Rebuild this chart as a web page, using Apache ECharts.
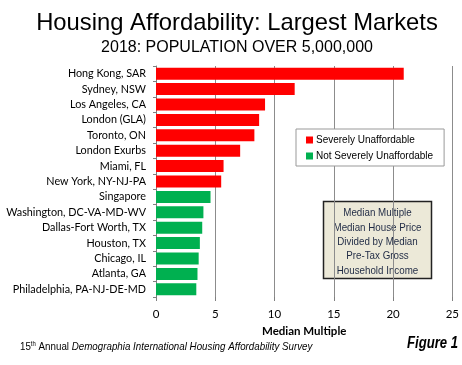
<!DOCTYPE html>
<html><head><meta charset="utf-8">
<script src="https://cdn.jsdelivr.net/npm/echarts@6/dist/echarts.min.js"></script>
<style>html,body{margin:0;padding:0;background:#fff}#c{width:462px;height:365px}</style>
</head><body><div id="c"></div>
<script>
const categories = ["Hong Kong, SAR","Sydney, NSW","Los Angeles, CA","London (GLA)","Toronto, ON","London Exurbs","Miami, FL","New York, NY-NJ-PA","Singapore","Washington, DC-VA-MD-WV","Dallas-Fort Worth, TX","Houston, TX","Chicago, IL","Atlanta, GA","Philadelphia, PA-NJ-DE-MD"];
const values = [20.9,11.7,9.2,8.7,8.3,7.1,5.7,5.5,4.6,4.0,3.9,3.7,3.6,3.5,3.4];
const severe = [1,1,1,1,1,1,1,1,0,0,0,0,0,0,0];
const seriesNames = ["Severely Unaffordable","Not Severely Unaffordable"];
const xTicks = [0,5,10,15,20,25];

const chart = echarts.init(document.getElementById('c'), null, {renderer:'canvas'});
const catFont = 'Lato, "Open Sans", sans-serif';
const arial = 'Liberation Sans, Arial, sans-serif';
chart.setOption({
  animation:false,
  title:[
    {text:'Housing Affordability: Largest Markets', left:232, textAlign:'center', top:6,
     textStyle:{fontFamily:arial,fontSize:23.8,fontWeight:'normal',color:'#000'}},
    {text:'2018: POPULATION OVER 5,000,000', left:232, textAlign:'center', top:35,
     textStyle:{fontFamily:arial,fontSize:16,fontWeight:'normal',color:'#000'}}
  ],
  grid:{left:156,right:9,top:66,bottom:68,containLabel:false},
  legend:{
    orient:'vertical', left:296, top:129,
    data:seriesNames, backgroundColor:'#fff', borderColor:'#999', borderWidth:1,
    padding:[6,11,5,10], itemGap:6, itemWidth:7, itemHeight:7, icon:'rect',
    textStyle:{fontFamily:arial,fontSize:10,color:'#000',padding:[0,0,0,-2]}
  },
  xAxis:{
    type:'value', min:0, max:25, interval:5,
    name:'Median Multiple', nameLocation:'middle', nameGap:26,
    nameTextStyle:{fontFamily:catFont,fontWeight:'bold',fontSize:11.5,color:'#000'},
    axisLine:{show:false},
    axisTick:{show:true,length:4,lineStyle:{color:'#808080'}},
    axisLabel:{fontFamily:catFont,fontSize:11.5,color:'#000',margin:11,
      formatter:v=>xTicks.includes(v)?String(v):''},
    splitLine:{show:true,lineStyle:{color:'#8c8c8c',width:1}}
  },
  yAxis:{
    type:'category', data:categories, inverse:true,
    axisLine:{show:true,lineStyle:{color:'#808080'}},
    axisTick:{show:true,length:3,lineStyle:{color:'#808080'}},
    axisLabel:{fontFamily:catFont,fontSize:10.8,color:'#000',margin:10,interval:0}
  },
  series:seriesNames.map((n,si)=>({
    name:n, type:'bar', barWidth:'78%', barGap:'-100%',
    itemStyle:{color: si===0?'#ff0000':'#00b050'},
    data: values.map((v,i)=> (severe[i]===1) === (si===0) ? v : null)
  })),
  graphic:[
    {type:'rect', shape:{x:323.5,y:201.5,width:108,height:77},
     style:{fill:'#ece9d8',stroke:'#222',lineWidth:1.5}},
    {type:'text', x:377.5, y:206, scaleX:0.85, style:{
      text:'Median Multiple\nMedian House Price\nDivided by Median\nPre-Tax Gross\nHousehold Income',
      align:'center', fontFamily:arial, fontSize:11.5,
      lineHeight:14.3, fill:'#1f2a44'}},
    {type:'text', x:20, y:341, scaleX:0.85, style:{
      text:'{n|15}{s|th}{n| Annual }{i|Demographia International Housing Affordability Survey}',
      rich:{
        n:{fontFamily:arial,fontSize:11.5,fill:'#000'},
        s:{fontFamily:arial,fontSize:7,fill:'#000',verticalAlign:'top',padding:[0,0,5,0]},
        i:{fontFamily:arial,fontSize:11.5,fontStyle:'italic',fill:'#000'}
      }}},
    {type:'text', x:458, y:336, scaleX:0.82, style:{text:'Figure 1', align:'right',
      fontFamily:arial, fontSize:16, fontWeight:'bold', fontStyle:'italic', fill:'#000'}}
  ]
});
</script></body></html>
